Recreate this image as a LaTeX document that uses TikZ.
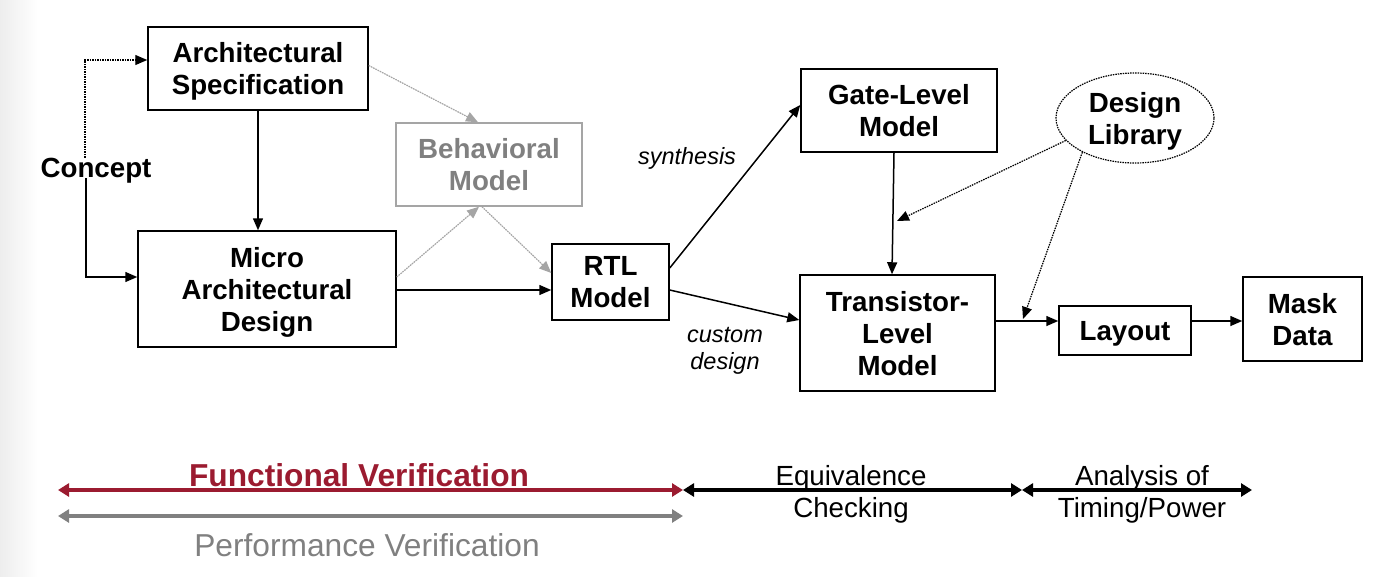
\documentclass[tikz,border=0pt]{standalone}
\usepackage{fontspec}
\setmainfont{Liberation Sans}
\usetikzlibrary{arrows.meta,shapes.geometric,calc}

\definecolor{fvred}{RGB}{155,27,48}
\definecolor{pvgray}{RGB}{128,128,128}
\definecolor{bmgray}{RGB}{165,165,165}

\tikzset{
  every picture/.style={line width=1.5pt},
  blk/.style={draw, line width=1.5pt, align=center, inner sep=0pt, text depth=0pt, font=\bfseries\fontsize{27.7}{32}\selectfont},
  lbl/.style={inner sep=0pt, align=center, font=\itshape\fontsize{23.5}{26.5}\selectfont},
  flow/.style={-{Triangle[length=12pt,width=10pt]}, line width=1.5pt},
  hint/.style={flow, densely dotted, line width=1.2pt},
  span/.style={{Triangle[length=11pt,width=13pt]}-{Triangle[length=11pt,width=13pt]}, line width=4pt},
  spantext/.style={inner sep=0pt, align=center, font=\fontsize{27.7}{32}\selectfont},
}

\begin{document}
\begin{tikzpicture}[x=1pt,y=1pt,yscale=-1,xscale=1]
        \useasboundingbox (0,0) rectangle (1374,576);
        %Shape: slide edge
        \shade[left color=black!7, right color=white] (0,0) rectangle (38,576);

        %Shape: Rectangle [spec]
        \node[blk, minimum width=220, minimum height=83] (spec) at (258,68.5) {Architectural\\Specification};
        %Shape: Rectangle [behav]
        \node[blk, draw=bmgray, text=pvgray, minimum width=186, minimum height=83] (behav) at (489,164.5) {Behavioral\\Model};
        %Shape: Rectangle [micro]
        \node[blk, minimum width=258, minimum height=116] (micro) at (267,289) {Micro\\Architectural\\Design};
        %Shape: Rectangle [rtl]
        \node[blk, minimum width=117, minimum height=76] (rtl) at (610.5,282) {RTL\\Model};
        %Shape: Rectangle [gate]
        \node[blk, minimum width=196, minimum height=83] (gate) at (899,110.5) {Gate-Level\\Model};
        %Shape: Rectangle [trans]
        \node[blk, minimum width=195, minimum height=116] (trans) at (897.5,333) {Transistor-\\Level\\Model};
        %Shape: Ellipse [lib]
        \node[blk, ellipse, densely dotted, line width=1.2pt, minimum width=158, minimum height=90] (lib) at (1135,118) {Design\\Library};
        %Shape: Rectangle [layout]
        \node[blk, minimum width=132, minimum height=49] (layout) at (1125,330.5) {Layout};
        %Shape: Rectangle [mask]
        \node[blk, minimum width=119, minimum height=84] (mask) at (1302.5,319) {Mask\\Data};

        % Text Node
        \node[blk, draw=none] (concept) at (96,168) {Concept};
        % Text Node
        \node[lbl] (synth) at (687,158) {synthesis};
        % Text Node
        \node[lbl] (custom) at (725,351) {custom\\design};

        %Straight Lines [concept]
        \draw[hint, line width=1.1pt] ($(concept.north)+(-11,0)$) |- ($(spec.west)+(0,-8.5)$);
        \draw[flow] ($(concept.south)+(-10,0)$) |- ($(micro.west)+(0,-12)$);
        %Straight Lines [spec]
        \draw[flow] (spec.south) -- (spec.south |- micro.north);
        \draw[hint, draw=bmgray, fill=pvgray] ($(spec.east)+(0,-3)$) -- ($(behav.north)+(-11,0)$);
        %Straight Lines [behav]
        \draw[hint, draw=bmgray, fill=pvgray] ($(micro.east)+(0,-12)$) -- ($(behav.south)+(-10,0)$);
        \draw[hint, draw=bmgray, fill=pvgray] ($(behav.south)+(-7,0)$) -- ($(rtl.west)+(0,-9)$);
        %Straight Lines [micro]
        \draw[flow] (micro.east |- rtl.west) ++(0,8) -- ($(rtl.west)+(0,8)$);
        %Straight Lines [rtl]
        \draw[flow] ($(rtl.east)+(0,-14)$) -- ($(gate.west)+(0,-5.5)$);
        \draw[flow] ($(rtl.east)+(0,8)$) -- ($(trans.west)+(0,-13)$);
        %Straight Lines [gate]
        \draw[flow] ($(gate.south)+(-5,0)$) -- ($(trans.north)+(-5.5,0)$);
        %Straight Lines [lib]
        \coordinate (tapgate) at (897,221);
        \coordinate (taplay) at (1023,319);
        \draw[hint] (lib.198) -- (tapgate);
        \draw[hint] (lib.213) -- (taplay);
        %Straight Lines [layout]
        \draw[flow] ($(trans.east)+(0,-12)$) -- ($(layout.west)+(0,-9.5)$);
        \draw[flow] ($(layout.east)+(0,-9.5)$) -- ($(mask.west)+(0,2)$);

        %Verification spans
        \coordinate (fvL) at (58,490);
        \coordinate (fvR) at (683,490);
        \coordinate (pvL) at (58,516);
        \coordinate (pvR) at (683,516);
        \coordinate (ecR) at (1022,490);
        \coordinate (taR) at (1252,490);
        \draw[span, fvred] (fvL) -- (fvR);
        \draw[span, pvgray] (pvL) -- (pvR);
        \draw[span] (fvR) -- (ecR);
        \draw[span] (ecR) -- (taR);

        % Text Node
        \node[spantext, text=fvred, font=\bfseries\fontsize{31.7}{36}\selectfont] (fvtext) at (359,475) {Functional Verification};
        % Text Node
        \node[spantext, text=pvgray, font=\fontsize{31.7}{36}\selectfont] (pvtext) at (367,545) {Performance Verification};
        % Text Node
        \node[spantext] (ectext) at (851,494) {Equivalence\\Checking};
        % Text Node
        \node[spantext] (tatext) at (1142,494) {Analysis of\\Timing/Power};

\end{tikzpicture}
\end{document}
